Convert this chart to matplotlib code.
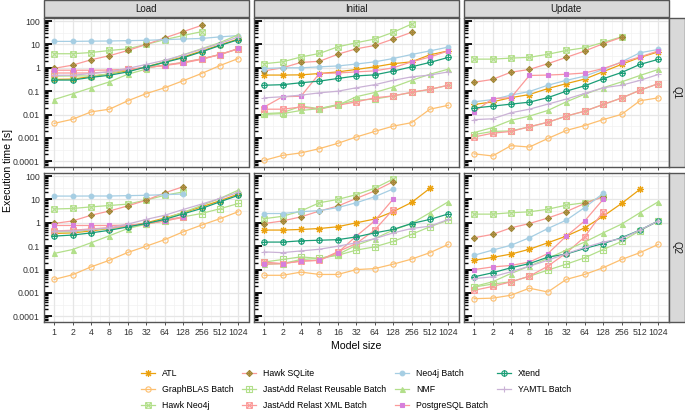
import matplotlib
matplotlib.use("Agg")
import matplotlib.pyplot as plt
from matplotlib.path import Path
from matplotlib.patches import Rectangle
from matplotlib.ticker import FixedLocator, NullFormatter

plt.rcParams['font.family'] = ['Liberation Sans', 'DejaVu Sans']

# ---------------- data ----------------
MODEL_SIZES = [1, 2, 4, 8, 16, 32, 64, 128, 256, 512, 1024]
X_TICK_LABELS = ["1", "2", "4", "8", "16", "32", "64", "128", "256", "512", "1024"]
Y_TICKS = [0.0001, 0.001, 0.01, 0.1, 1, 10, 100]
Y_TICK_LABELS = ["0.0001", "0.001", "0.01", "0.1", "1", "10", "100"]
COLUMNS = ["Load", "Initial", "Update"]
ROWS = ["Q1", "Q2"]
SERIES = ["ATL", "GraphBLAS Batch", "Hawk Neo4j", "Hawk SQLite",
          "JastAdd Relast Reusable Batch", "JastAdd Relast XML Batch",
          "Neo4j Batch", "NMF", "PostgreSQL Batch", "Xtend", "YAMTL Batch"]

load_q1 = {
    "ATL": [0.32, 0.33, 0.42, 0.55, 0.75, 1.1, 1.8, 2.9, 5.2, 9.5, 17],
    "GraphBLAS Batch": [0.0042, 0.0063, 0.013, 0.017, 0.039, 0.079, 0.14, 0.28, 0.57, 1.25, 2.5],
    "Hawk Neo4j": [4, 4, 4.5, 5.5, 6.5, 10, 16, 24, 35],
    "Hawk SQLite": [0.95, 1.3, 2.2, 3.3, 5.5, 10, 19, 35, 65],
    "JastAdd Relast Reusable Batch": [0.44, 0.45, 0.45, 0.55, 0.85, 1.0, 1.3, 1.7, 2.4, 3.7, 6.5],
    "JastAdd Relast XML Batch": [0.6, 0.6, 0.6, 0.67, 0.85, 1.0, 1.3, 1.7, 2.4, 3.7, 6.5],
    "Neo4j Batch": [13.5, 13.5, 13.8, 14, 14.5, 15, 16, 17, 18, 21, 24],
    "NMF": [0.044, 0.077, 0.14, 0.25, 0.53, 0.88, 1.9, 3.6, 6.5, 12, 26],
    "PostgreSQL Batch": [0.79, 0.79, 0.79, 0.8, 0.88, 1.03, 1.25, 1.6, 2.3, 3.7, 6.7],
    "Xtend": [0.3, 0.3, 0.39, 0.48, 0.67, 1.1, 1.7, 2.7, 4.8, 9, 16],
    "YAMTL Batch": [0.48, 0.48, 0.57, 0.67, 0.94, 1.4, 2.1, 3.5, 6.2, 11, 21],
}
initial_q1 = {
    "ATL": [0.49, 0.49, 0.5, 0.57, 0.67, 0.85, 1.1, 1.5, 1.8, 3.6, 5.3],
    "GraphBLAS Batch": [0.00011, 0.00018, 0.00023, 0.00035, 0.00059, 0.0011, 0.0019, 0.0032, 0.0045, 0.017, 0.025],
    "Hawk Neo4j": [1.5, 1.8, 2.9, 4.1, 7.9, 11.8, 17, 33, 74],
    "Hawk SQLite": [0.74, 1.0, 1.7, 1.9, 3.8, 6.5, 9.0, 17, 33],
    "JastAdd Relast Reusable Batch": [0.011, 0.012, 0.023, 0.018, 0.027, 0.041, 0.046, 0.063, 0.088, 0.12, 0.18],
    "JastAdd Relast XML Batch": [0.017, 0.017, 0.021, 0.017, 0.025, 0.035, 0.052, 0.063, 0.09, 0.12, 0.18],
    "Neo4j Batch": [0.93, 1.0, 1.0, 1.1, 1.2, 1.45, 1.8, 2.5, 3.7, 5.3, 7.7],
    "NMF": [0.0102, 0.011, 0.015, 0.018, 0.025, 0.058, 0.088, 0.15, 0.29, 0.53, 0.88],
    "PostgreSQL Batch": [0.021, 0.058, 0.061, 0.57, 0.6, 0.67, 0.74, 1.0, 1.8, 2.9, 5.3],
    "Xtend": [0.18, 0.19, 0.23, 0.27, 0.35, 0.45, 0.5, 0.72, 1.1, 1.7, 2.8],
    "YAMTL Batch": [0.052, 0.058, 0.068, 0.085, 0.1, 0.14, 0.19, 0.29, 0.41, 0.49, 0.67],
}
update_q1 = {
    "ATL": [0.027, 0.035, 0.053, 0.072, 0.13, 0.21, 0.33, 0.68, 1.4, 2.8, 4.8],
    "GraphBLAS Batch": [0.00021, 0.00017, 0.00047, 0.00041, 0.00095, 0.0021, 0.0034, 0.0061, 0.0102, 0.039, 0.052],
    "Hawk Neo4j": [2.35, 2.35, 2.6, 2.8, 3.8, 5.5, 7.2, 12.2, 21],
    "Hawk SQLite": [0.24, 0.32, 0.65, 0.85, 1.5, 2.8, 5.2, 10.7, 20],
    "JastAdd Relast Reusable Batch": [0.0014, 0.0019, 0.002, 0.003, 0.0047, 0.0086, 0.014, 0.027, 0.051, 0.11, 0.21],
    "JastAdd Relast XML Batch": [0.0011, 0.0016, 0.0019, 0.003, 0.0047, 0.0086, 0.014, 0.027, 0.051, 0.11, 0.21],
    "Neo4j Batch": [0.035, 0.044, 0.068, 0.097, 0.18, 0.29, 0.44, 0.85, 1.8, 4.4, 6.1],
    "NMF": [0.0017, 0.0028, 0.0057, 0.0086, 0.015, 0.035, 0.074, 0.14, 0.25, 0.47, 0.85],
    "PostgreSQL Batch": [0.013, 0.048, 0.053, 0.47, 0.49, 0.53, 0.6, 0.93, 1.7, 2.9, 5.3],
    "Xtend": [0.019, 0.023, 0.028, 0.034, 0.053, 0.1, 0.17, 0.34, 0.63, 1.4, 2.3],
    "YAMTL Batch": [0.0061, 0.0066, 0.012, 0.017, 0.028, 0.046, 0.08, 0.14, 0.18, 0.29, 0.52],
}
load_q2 = {
    "ATL": [0.35, 0.37, 0.45, 0.57, 0.72, 1.0, 1.6, 2.7, 4.8, 8.8, 17],
    "GraphBLAS Batch": [0.0038, 0.006, 0.013, 0.025, 0.054, 0.1, 0.19, 0.41, 0.8, 1.5, 3.0],
    "Hawk Neo4j": [3.9, 4.1, 4.8, 5.5, 6.3, 9.4, 15, 21],
    "Hawk SQLite": [0.94, 1.2, 2.1, 3.2, 5.3, 9.3, 19, 35],
    "JastAdd Relast Reusable Batch": [0.41, 0.41, 0.5, 0.58, 0.7, 0.88, 1.2, 1.8, 2.5, 4.0, 6.7],
    "JastAdd Relast XML Batch": [0.45, 0.48, 0.55, 0.62, 0.7, 0.94, 1.3, 1.8],
    "Neo4j Batch": [13.9, 13.9, 14, 14, 14.5, 15, 16, 17],
    "NMF": [0.049, 0.072, 0.14, 0.28, 0.57, 0.88, 1.5, 2.8, 5.5, 11, 25],
    "PostgreSQL Batch": [0.77, 0.77, 0.77, 0.77, 0.8, 0.9, 1.2, 1.7],
    "Xtend": [0.27, 0.3, 0.37, 0.48, 0.67, 0.94, 1.4, 2.4, 4.1, 7.9, 15],
    "YAMTL Batch": [0.44, 0.45, 0.52, 0.61, 0.88, 1.4, 2.1, 3.7, 6.3, 11, 20],
}
initial_q2 = {
    "ATL": [0.49, 0.49, 0.52, 0.57, 0.68, 1.0, 1.45, 3.0, 7.4, 30],
    "GraphBLAS Batch": [0.0057, 0.0057, 0.0078, 0.0062, 0.0062, 0.01, 0.011, 0.017, 0.028, 0.053, 0.12],
    "Hawk Neo4j": [1.5, 1.9, 3.2, 7.2, 10, 16, 30, 74],
    "Hawk SQLite": [0.93, 1.2, 1.8, 3.2, 5.2, 11, 23, 57],
    "JastAdd Relast Reusable Batch": [0.021, 0.027, 0.035, 0.03, 0.041, 0.068, 0.094, 0.16, 0.32, 0.68, 1.3],
    "JastAdd Relast XML Batch": [0.021, 0.018, 0.023, 0.025, 0.058, 0.13, 0.49, 3.7],
    "Neo4j Batch": [2.5, 2.5, 3.0, 3.3, 4.5, 7.2, 13, 28],
    "NMF": [0.017, 0.018, 0.027, 0.03, 0.044, 0.11, 0.21, 0.49, 0.93, 2.7, 8],
    "PostgreSQL Batch": [0.017, 0.018, 0.023, 0.025, 0.053, 0.27, 1.2, 10.3],
    "Xtend": [0.15, 0.15, 0.17, 0.18, 0.19, 0.25, 0.37, 0.52, 0.93, 1.4, 2.4],
    "YAMTL Batch": [0.057, 0.053, 0.063, 0.074, 0.1, 0.14, 0.21, 0.37, 0.57, 0.72, 1.4],
}
update_q2 = {
    "ATL": [0.025, 0.033, 0.046, 0.074, 0.14, 0.27, 0.61, 1.9, 6.7, 27],
    "GraphBLAS Batch": [0.00057, 0.0006, 0.0008, 0.0016, 0.0011, 0.0038, 0.0062, 0.012, 0.027, 0.053, 0.12],
    "Hawk Neo4j": [2.35, 2.35, 2.7, 2.95, 3.8, 5.7, 7.2, 13],
    "Hawk SQLite": [0.23, 0.32, 0.61, 0.93, 1.6, 3.0, 6.7, 13],
    "JastAdd Relast Reusable Batch": [0.0018, 0.0024, 0.003, 0.0052, 0.0095, 0.017, 0.032, 0.072, 0.16, 0.46, 1.2],
    "JastAdd Relast XML Batch": [0.0013, 0.0019, 0.003, 0.0052, 0.014, 0.051, 0.25, 3.0],
    "Neo4j Batch": [0.041, 0.068, 0.11, 0.23, 0.57, 1.3, 4.5, 18],
    "NMF": [0.0019, 0.003, 0.0068, 0.014, 0.03, 0.068, 0.15, 0.37, 0.88, 2.7, 8],
    "PostgreSQL Batch": [0.01, 0.013, 0.015, 0.021, 0.048, 0.27, 1.2, 10],
    "Xtend": [0.0049, 0.0073, 0.012, 0.018, 0.034, 0.046, 0.08, 0.13, 0.23, 0.49, 1.2],
    "YAMTL Batch": [0.0041, 0.0049, 0.0081, 0.014, 0.025, 0.048, 0.088, 0.15, 0.21, 0.49, 1.2],
}
PANELS = [[load_q1, initial_q1, update_q1], [load_q2, initial_q2, update_q2]]

# ---------------- marker shapes ----------------
M, L, C = Path.MOVETO, Path.LINETO, Path.CLOSEPOLY
square = Path([(-1, -1), (1, -1), (1, 1), (-1, 1), (-1, -1)], [M, L, L, L, C])
xcross = Path([(-1, -1), (1, 1), (-1, 1), (1, -1)], [M, L, M, L])
plus = Path([(0, -1), (0, 1), (-1, 0), (1, 0)], [M, L, M, L])
plus_d = Path([(0, -1.35), (0, 1.35), (-1.35, 0), (1.35, 0)], [M, L, M, L])
diamond = Path([(0, -1.35), (1.35, 0), (0, 1.35), (-1.35, 0), (0, -1.35)], [M, L, L, L, C])
SQ_X = Path.make_compound_path(square, xcross)
SQ_P = Path.make_compound_path(square, plus)
CI_P = Path.make_compound_path(Path.unit_circle(), plus)
DI_P = Path.make_compound_path(diamond, plus_d)

# line color, marker, marker edge, marker face, marker size
STYLE = {
    "ATL": ("#EBA10E", (8, 2, 0), "#EBA10E", "none", 5.0),
    "GraphBLAS Batch": ("#FDBF6F", "o", "#FDBF6F", "none", 3.8),
    "Hawk Neo4j": ("#B2DF8A", SQ_X, "#B2DF8A", "none", 4.0),
    "Hawk SQLite": ("#FB9A99", DI_P, "#A08A3C", "#E0955A", 4.3),
    "JastAdd Relast Reusable Batch": ("#B2DF8A", SQ_P, "#B2DF8A", "none", 4.0),
    "JastAdd Relast XML Batch": ("#FB9A99", SQ_X, "#FB9A99", "none", 4.0),
    "Neo4j Batch": ("#A6CEE3", "o", "#A6CEE3", "#A6CEE3", 3.4),
    "NMF": ("#B2DF8A", "^", "#B2DF8A", "#B2DF8A", 3.6),
    "PostgreSQL Batch": ("#FB9A99", "s", "#D67FDC", "#D67FDC", 3.2),
    "Xtend": ("#1B9E77", CI_P, "#1B9E77", "none", 3.9),
    "YAMTL Batch": ("#CAB2D6", "+", "#CAB2D6", "none", 4.8),
}

# ---------------- layout ----------------
W, H = 685, 415
fig = plt.figure(figsize=(W / 100, H / 100), dpi=100)
col_left = [44, 254, 464]
panel_w = 204.5
row_top = [18, 173]
panel_h = 148.5
YLIM = (10 ** -4.22, 10 ** 2.13)
XLIM = (2 ** -0.55, 2 ** 10.55)

minor_y = [m * 10.0 ** e for e in range(-5, 3) for m in (2, 3, 4, 5, 6, 7, 8, 9)]
grid_minor_y = [10 ** (e + 0.5) for e in range(-5, 3)]
grid_minor_x = [2 ** (e + 0.5) for e in range(-1, 11)]

TICK_FS = 6.3
handles = []
for r in range(2):
    for c in range(3):
        ax = fig.add_axes([col_left[c] / W, 1 - (row_top[r] + panel_h) / H,
                           panel_w / W, panel_h / H])
        ax.set_xscale("log", base=2)
        ax.set_yscale("log")
        ax.set_xlim(*XLIM)
        ax.set_ylim(*YLIM)
        ax.set_facecolor("white")
        for gy in grid_minor_y:
            ax.axhline(gy, color="#F2F2F2", lw=0.5, zorder=0)
        for gx in grid_minor_x:
            ax.axvline(gx, color="#F2F2F2", lw=0.5, zorder=0)
        for gy in Y_TICKS:
            ax.axhline(gy, color="#E6E6E6", lw=0.9, zorder=0)
        for gx in MODEL_SIZES:
            ax.axvline(gx, color="#E6E6E6", lw=0.9, zorder=0)

        data = PANELS[r][c]
        for name in SERIES:
            vals = data[name]
            lc, mk, mec, mfc, ms = STYLE[name]
            ln, = ax.plot(MODEL_SIZES[:len(vals)], vals, color=lc, lw=0.9,
                          marker=mk, markeredgecolor=mec, markerfacecolor=mfc,
                          markersize=ms, markeredgewidth=0.8, zorder=3)
            if r == 0 and c == 0:
                handles.append(ln)

        ax.xaxis.set_major_locator(FixedLocator(MODEL_SIZES))
        ax.xaxis.set_minor_locator(FixedLocator([]))
        ax.yaxis.set_major_locator(FixedLocator(Y_TICKS))
        ax.yaxis.set_minor_locator(FixedLocator(minor_y))
        ax.yaxis.set_minor_formatter(NullFormatter())
        if r == 1:
            ax.set_xticklabels(X_TICK_LABELS, fontsize=TICK_FS, color="#333333")
        else:
            ax.set_xticklabels([])
        if c == 0:
            ax.set_yticklabels(Y_TICK_LABELS, fontsize=TICK_FS, color="#333333")
        else:
            ax.set_yticklabels([])
        ax.tick_params(axis="x", which="major", length=2.5, width=0.6, color="#333333", pad=2)
        ax.tick_params(axis="y", which="major", direction="in", length=6, width=1.3,
                       color="black", pad=3)
        ax.tick_params(axis="y", which="minor", direction="in", length=3, width=1.0,
                       color="black")
        for sp in ax.spines.values():
            sp.set_color("#555555")
            sp.set_linewidth(1.0)

# strips
for c, lab in enumerate(COLUMNS):
    fig.patches.append(Rectangle((col_left[c] / W, 1 - 17.5 / H), panel_w / W, 17 / H,
                                 transform=fig.transFigure, facecolor="#D9D9D9",
                                 edgecolor="#555555", lw=1.0))
    fig.text((col_left[c] + panel_w / 2) / W, 1 - 9 / H, lab, ha="center", va="center",
             fontsize=7.0, color="#1A1A1A")
for r, lab in enumerate(ROWS):
    fig.patches.append(Rectangle((668.5 / W, 1 - (row_top[r] + panel_h) / H), 16 / W,
                                 panel_h / H, transform=fig.transFigure,
                                 facecolor="#D9D9D9", edgecolor="#555555", lw=1.0))
    fig.text(676.5 / W, 1 - (row_top[r] + panel_h / 2) / H, lab, ha="center",
             va="center", rotation=270, fontsize=7.0, color="#1A1A1A")

fig.text(8 / W, 1 - 170 / H, "Execution time [s]", rotation=90, ha="center",
         va="center", fontsize=7.6)
fig.text(356 / W, 1 - 346 / H, "Model size", ha="center", va="center", fontsize=7.6)

fig.legend(handles, SERIES, ncol=4, loc="center", bbox_to_anchor=(356 / W, 1 - 389.5 / H),
           frameon=False, fontsize=6.3, handlelength=1.6, handletextpad=0.8,
           columnspacing=1.0, labelspacing=0.85, numpoints=1)

fig.savefig("out.png", dpi=100)
